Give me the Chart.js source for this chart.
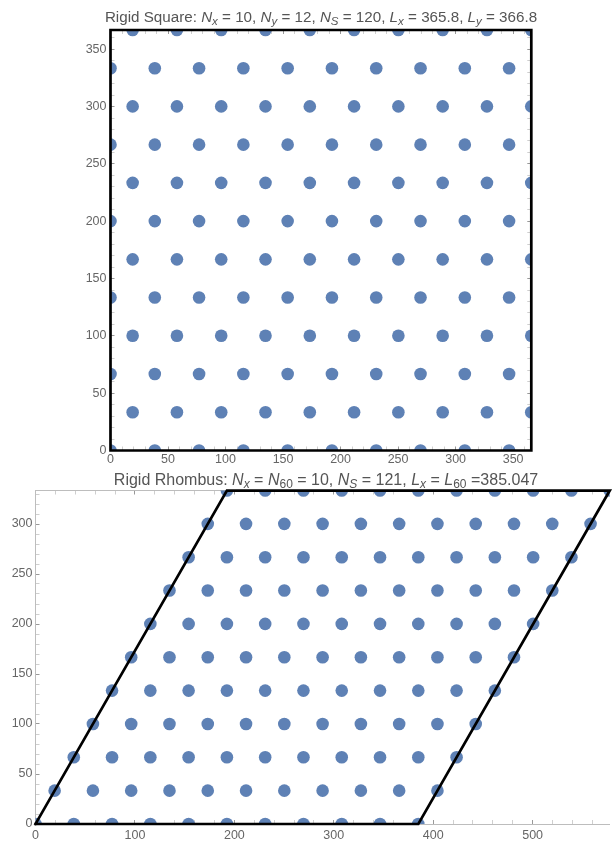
<!DOCTYPE html>
<html>
<head>
<meta charset="utf-8">
<script src="https://cdn.jsdelivr.net/npm/chart.js@4.4.0/dist/chart.umd.min.js"></script>
<style>
  html, body { margin: 0; padding: 0; background: #fff; overflow: hidden; width: 613px; height: 842px; }
  .title {
    position: absolute; white-space: nowrap; z-index: 2;
    font-family: 'Liberation Sans', Arial, sans-serif; line-height: 18px; color: #555;
    transform: translateX(-50%);
  }
  .title sub { line-height: 0; vertical-align: -3px; }
  #squareTitle { font-size: 15.2px; }
  #squareTitle sub { font-size: 11.5px; }
  #rhombusTitle { font-size: 16px; }
  #rhombusTitle sub { font-size: 12px; }
  canvas { position: absolute; left: 0; }
</style>
</head>
<body>
<div class="title" id="squareTitle" style="left:321px; top:8px">Rigid Square: <i>N</i><sub><i>x</i></sub> = 10, <i>N</i><sub><i>y</i></sub> = 12, <i>N</i><sub><i>S</i></sub> = 120, <i>L</i><sub><i>x</i></sub> = 365.8, <i>L</i><sub><i>y</i></sub> = 366.8</div>
<canvas id="squareChart" width="613" height="466" style="top:0"></canvas>
<div class="title" id="rhombusTitle" style="left:326px; top:471px">Rigid Rhombus: <i>N</i><sub><i>x</i></sub> = <i>N</i><sub>60</sub> = 10, <i>N</i><sub><i>S</i></sub> = 121, <i>L</i><sub><i>x</i></sub> = <i>L</i><sub>60</sub> =385.047</div>
<canvas id="rhombusChart" width="616" height="372" style="top:470px"></canvas>
<script>
const pointColor = '#5E81B5';

// rigid square: row heights, x positions of even / odd rows, box outline
const squareRowY = [0, 33.35, 66.7, 100.05, 133.4, 166.75, 200.1, 233.45, 266.8, 300.15, 333.5, 366.8];
const squareEvenX = [0, 38.5, 77, 115.5, 154, 192.5, 231, 269.5, 308, 346.5];
const squareOddX = [19.25, 57.75, 96.25, 134.75, 173.25, 211.75, 250.25, 288.75, 327.25, 365.75];
const squareBoxX = [0, 365.8, 365.8, 0, 0];
const squareBoxY = [0, 0, 366.8, 366.8, 0];
const squareTicks = [0, 50, 100, 150, 200, 250, 300, 350];

// rigid rhombus: row heights, row offsets, column positions, box outline
const rhombusRowY = [0, 33.35, 66.7, 100.05, 133.4, 166.75, 200.1, 233.45, 266.8, 300.15, 333.5];
const rhombusRowShift = [0, 19.25, 38.5, 57.75, 77, 96.25, 115.5, 134.75, 154, 173.25, 192.5];
const rhombusColX = [0, 38.5, 77, 115.5, 154, 192.5, 231, 269.5, 308, 346.5, 385];
const rhombusBoxX = [0, 385.047, 577.57, 192.52, 0];
const rhombusBoxY = [0, 0, 333.46, 333.46, 0];
const rhombusXTicks = [0, 100, 200, 300, 400, 500];
const rhombusYTicks = [0, 50, 100, 150, 200, 250, 300];

const squarePoints = [];
squareRowY.forEach((y, r) => {
    (r % 2 === 0 ? squareEvenX : squareOddX).forEach(x => squarePoints.push({ x, y }));
});

const rhombusPoints = [];
rhombusRowY.forEach((y, r) => {
    rhombusColX.forEach(x => rhombusPoints.push({ x: x + rhombusRowShift[r], y }));
});

const squareBox = squareBoxX.map((x, i) => ({ x, y: squareBoxY[i] }));
const rhombusBox = rhombusBoxX.map((x, i) => ({ x, y: rhombusBoxY[i] }));

function frameAxis(position, max, step, labels, size, showLabels, pad) {
    return {
        type: 'linear',
        position,
        min: 0,
        max,
        afterFit: s => {
            if (s.isHorizontal()) s.height = size;
            else s.width = size;
        },
        ticks: {
            display: showLabels,
            stepSize: step,
            autoSkip: false,
            maxRotation: 0,
            includeBounds: false,
            padding: pad,
            color: '#666',
            font: { family: "'Liberation Sans', Arial, sans-serif", size: 12.5 },
            callback: v => labels.includes(v) ? String(v) : ''
        },
        grid: {
            drawOnChartArea: false,
            drawTicks: true,
            tickLength: -4,
            tickWidth: 1,
            tickColor: ctx => (ctx.tick && labels.includes(ctx.tick.value)) ? '#999' : '#cfcfcf'
        },
        border: { display: true, color: '#bdbdbd', width: 1 }
    };
}

function makeChart(id, points, box, scales, padding) {
    const ctx = document.getElementById(id).getContext('2d');
    return new Chart(ctx, {
        type: 'scatter',
        data: {
            datasets: [
                {
                    data: box,
                    xAxisID: 'x',
                    yAxisID: 'y',
                    showLine: true,
                    borderColor: '#000',
                    borderWidth: 2.7,
                    borderCapStyle: 'square',
                    borderJoinStyle: 'miter',
                    pointRadius: 0,
                    tension: 0,
                    clip: false
                },
                {
                    data: points,
                    xAxisID: 'x',
                    yAxisID: 'y',
                    backgroundColor: pointColor,
                    borderWidth: 0,
                    pointRadius: 6.3,
                    pointHoverRadius: 6.3,
                    clip: 0
                }
            ]
        },
        options: {
            responsive: false,
            animation: false,
            devicePixelRatio: 1,
            layout: { padding },
            scales,
            plugins: {
                legend: { display: false },
                tooltip: { enabled: false },
                title: { display: false }
            }
        }
    });
}

makeChart('squareChart', squarePoints, squareBox, {
    x: frameAxis('bottom', 365.8, 10, squareTicks, 14.2, true, 6),
    y: frameAxis('left', 366.8, 10, squareTicks, 110.5, true, 8),
    x2: frameAxis('top', 365.8, 10, squareTicks, 0, false, 0),
    y2: frameAxis('right', 366.8, 10, squareTicks, 0, false, 0)
}, { left: 0, right: 81.7, top: 30, bottom: 0 });

makeChart('rhombusChart', rhombusPoints, rhombusBox, {
    x: frameAxis('bottom', 577.5, 20, rhombusXTicks, 18, true, 8),
    y: frameAxis('left', 333.5, 10, rhombusYTicks, 35.5, true, 7),
    x2: frameAxis('top', 577.5, 20, rhombusXTicks, 0, false, 0)
}, { left: 0, right: 1, top: 20.5, bottom: 0 });
</script>
</body>
</html>
